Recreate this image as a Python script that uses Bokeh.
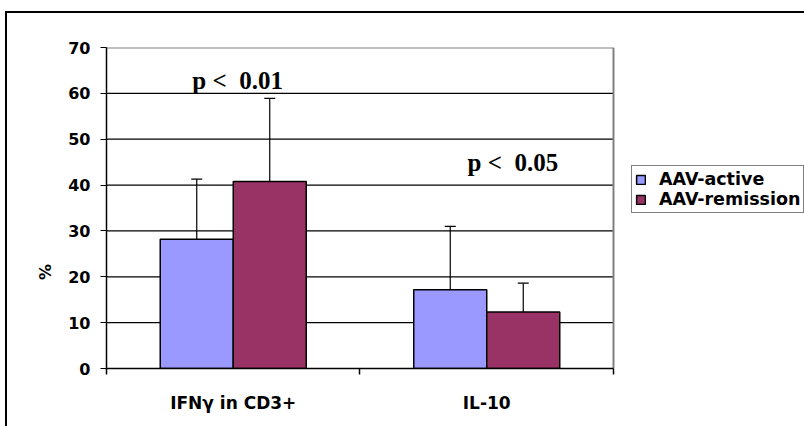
from bokeh.plotting import figure
from bokeh.models import (ColumnDataSource, FixedTicker, Range1d, Whisker, TeeHead,
                          Label, Legend, LegendItem, LinearAxis)
from bokeh.embed import file_html
from bokeh.resources import INLINE

# --- data -------------------------------------------------------------
categories = ["IFNγ in CD3+", "IL-10"]
series_names = ["AAV-active", "AAV-remission"]
active_mean = [28.2, 17.2]
active_sd = [13.1, 13.8]
remission_mean = [40.8, 12.3]
remission_sd = [18.1, 6.3]
y_ticks = [0, 10, 20, 30, 40, 50, 60, 70]
p_texts = ["p <\u00a0\u00a00.01", "p <\u00a0\u00a00.05"]
y_title = "%"

colors = ["#9999FF", "#993366"]
bar_w = 0.288
offsets = [-0.144, 0.144]
n_cat = len(categories)
centers = [i + 0.5 for i in range(n_cat)]
y_lo, y_hi = y_ticks[0], y_ticks[-1]

# the frame runs on to the right edge so the legend can sit beside the bars;
# the category area itself covers x = 0 .. n_cat
p = figure(width=804, height=426, output_backend="svg", toolbar_location=None,
           x_range=Range1d(0, n_cat + 0.7535), y_range=Range1d(y_lo, y_hi),
           min_border_left=106, min_border_right=0, min_border_top=47, min_border_bottom=58)
# chart-area frame: black rule along the top and left, painted behind a
# transparent canvas border
p.styles = {
    "overflow": "hidden",
    "background-color": "white",
    "background-image": "linear-gradient(black, black), linear-gradient(black, black)",
    "background-size": "2px 100%, 100% 2px",
    "background-position": "5px 11px, 5px 11px",
    "background-repeat": "no-repeat, no-repeat",
}
p.background_fill_color = "white"
p.border_fill_color = None
p.outline_line_color = None

# horizontal grid lines across the category area
grid_src = ColumnDataSource(dict(x0=[0] * (len(y_ticks) - 2), x1=[n_cat] * (len(y_ticks) - 2),
                                 y=y_ticks[1:-1]))
p.segment(x0="x0", x1="x1", y0="y", y1="y", source=grid_src,
          line_color="black", line_width=1.2)
# grey plot-area border on the top and right
p.segment(x0=[0, n_cat], x1=[n_cat, n_cat], y0=[y_hi, y_lo], y1=[y_hi, y_hi],
          line_color="#808080", line_width=2)

# bars + upward error bars for each series
items = []
for k, (means, sds) in enumerate([(active_mean, active_sd), (remission_mean, remission_sd)]):
    xs = [c + offsets[k] for c in centers]
    src = ColumnDataSource(dict(x=xs, top=means,
                                upper=[m + s for m, s in zip(means, sds)]))
    r = p.vbar(x="x", top="top", width=bar_w, bottom=0, source=src,
               fill_color=colors[k], line_color="black", line_width=1.5)
    items.append(LegendItem(label=series_names[k], renderers=[r]))
    p.add_layout(Whisker(base="x", lower="top", upper="upper", source=src,
                         dimension="height", line_color="black", line_width=1.2,
                         upper_head=TeeHead(size=11, line_color="black", line_width=1.2),
                         lower_head=None))

# y axis
p.yaxis.ticker = FixedTicker(ticks=y_ticks)
p.yaxis.axis_line_color = "black"
p.yaxis.axis_line_width = 1.5
p.yaxis.major_tick_line_color = "black"
p.yaxis.major_tick_out = 6
p.yaxis.major_tick_in = 0
p.yaxis.minor_tick_line_color = None
p.yaxis.major_label_text_font = "DejaVu Sans"
p.yaxis.major_label_text_font_style = "bold"
p.yaxis.major_label_text_font_size = "16px"
p.yaxis.major_label_text_color = "black"
p.yaxis.major_label_standoff = 10

# axis title on its own bare axis; trailing no-break spaces set the "%"
# a little below mid-height
title_axis = LinearAxis(axis_label=y_title + "\u00a0" * 23, ticker=FixedTicker(ticks=[]),
                        axis_line_color=None, major_tick_line_color=None,
                        minor_tick_line_color=None, axis_label_standoff=11,
                        axis_label_text_font="DejaVu Sans",
                        axis_label_text_font_style="bold",
                        axis_label_text_font_size="16px",
                        axis_label_text_color="black")
p.add_layout(title_axis, "left")

# x axis: labels at category centres, tick marks at category boundaries
p.xaxis.ticker = FixedTicker(ticks=centers, minor_ticks=list(range(n_cat + 1)))
p.xaxis.major_label_overrides = {c: name for c, name in zip(centers, categories)}
p.xaxis.bounds = (0, n_cat)
p.xaxis.axis_line_color = "black"
p.xaxis.axis_line_width = 1.5
p.xaxis.major_tick_out = 0
p.xaxis.major_tick_in = 0
p.xaxis.minor_tick_line_color = "black"
p.xaxis.minor_tick_line_width = 1.5
p.xaxis.minor_tick_out = 6
p.xaxis.minor_tick_in = 0
p.xaxis.major_label_text_font = "DejaVu Sans"
p.xaxis.major_label_text_font_style = "bold"
p.xaxis.major_label_text_font_size = "17px"
p.xaxis.major_label_text_color = "black"
p.xaxis.major_label_standoff = 18

p.xgrid.visible = False
p.ygrid.visible = False

# significance notes
for txt, (px, py) in zip(p_texts, [(0.517, 62.7), (1.603, 44.9)]):
    p.add_layout(Label(x=px, y=py, text=txt, text_align="center",
                       text_baseline="alphabetic", text_font="Liberation Serif",
                       text_font_style="bold", text_font_size="25px",
                       text_color="black"))

# legend beside the bars
lg = Legend(items=items, location=(525, 155))
lg.border_line_color = "black"
lg.border_line_width = 1.2
lg.background_fill_color = "white"
lg.background_fill_alpha = 1
lg.padding = 3
lg.spacing = 0
lg.margin = 0
lg.glyph_width = 11
lg.glyph_height = 11
lg.label_height = 17
lg.label_standoff = 13
lg.label_text_font = "DejaVu Sans"
lg.label_text_font_style = "bold"
lg.label_text_font_size = "17.5px"
lg.label_text_line_height = 1.0
lg.label_text_color = "black"
p.add_layout(lg, "center")

open("out.html", "w").write(file_html(p, INLINE))
